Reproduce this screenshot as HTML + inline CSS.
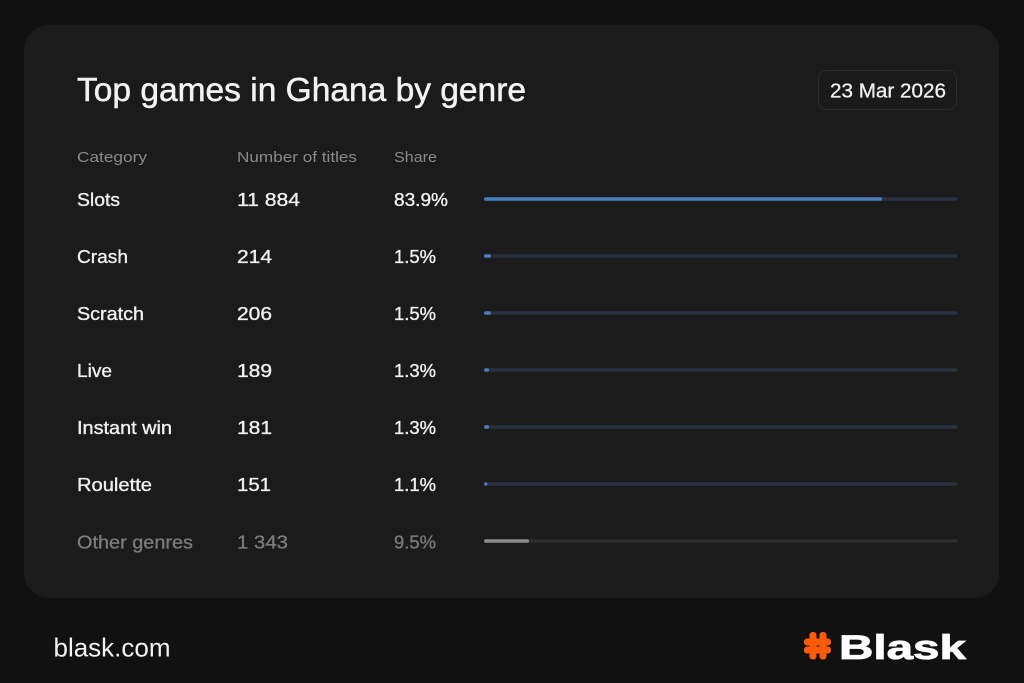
<!DOCTYPE html>
<html>
<head>
<meta charset="utf-8">
<style>
  html, body { margin:0; padding:0; background:#111111; }
  body { width:1024px; height:683px; overflow:hidden; }
  svg { display:block; }
  text { font-family: "Liberation Sans", "DejaVu Sans", sans-serif; }
</style>
</head>
<body>
<svg width="1024" height="683" viewBox="0 0 1024 683" xmlns="http://www.w3.org/2000/svg">
  <rect x="0" y="0" width="1024" height="683" fill="#111111"/>
  <!-- card -->
  <rect x="24" y="25" width="975" height="573" rx="25" ry="25" fill="#1b1b1b"/>

  <!-- title -->
  <text x="77" y="101" font-size="33" fill="#f2f2f2" stroke="#f2f2f2" stroke-width="0.5" textLength="449" lengthAdjust="spacingAndGlyphs">Top games in Ghana by genre</text>

  <!-- date box -->
  <rect x="818.5" y="70.5" width="138" height="39" rx="8" ry="8" fill="#1a1a1a" stroke="#2b2b2b" stroke-width="1"/>
  <text x="830" y="97.5" font-size="20" fill="#f0f0f0" stroke="#f0f0f0" stroke-width="0.3" textLength="116" lengthAdjust="spacingAndGlyphs">23 Mar 2026</text>

  <!-- headers -->
  <g font-size="15" fill="#8a8a8a">
    <text x="77" y="162" textLength="70" lengthAdjust="spacingAndGlyphs">Category</text>
    <text x="237" y="162" textLength="120" lengthAdjust="spacingAndGlyphs">Number of titles</text>
    <text x="394" y="162" textLength="43" lengthAdjust="spacingAndGlyphs">Share</text>
  </g>

  <!-- rows -->
  <g font-size="18" fill="#f0f0f0" stroke="#f0f0f0" stroke-width="0.35">
    <text x="77" y="206" textLength="43" lengthAdjust="spacingAndGlyphs">Slots</text>
    <text x="237" y="206" textLength="63" lengthAdjust="spacingAndGlyphs">11 884</text>
    <text x="394" y="206" textLength="54" lengthAdjust="spacingAndGlyphs">83.9%</text>

    <text x="77" y="263" textLength="51" lengthAdjust="spacingAndGlyphs">Crash</text>
    <text x="237" y="263" textLength="35" lengthAdjust="spacingAndGlyphs">214</text>
    <text x="394" y="263" textLength="42" lengthAdjust="spacingAndGlyphs">1.5%</text>

    <text x="77" y="320" textLength="67" lengthAdjust="spacingAndGlyphs">Scratch</text>
    <text x="237" y="320" textLength="35" lengthAdjust="spacingAndGlyphs">206</text>
    <text x="394" y="320" textLength="42" lengthAdjust="spacingAndGlyphs">1.5%</text>

    <text x="77" y="377" textLength="35" lengthAdjust="spacingAndGlyphs">Live</text>
    <text x="237" y="377" textLength="35" lengthAdjust="spacingAndGlyphs">189</text>
    <text x="394" y="377" textLength="42" lengthAdjust="spacingAndGlyphs">1.3%</text>

    <text x="77" y="434" textLength="95" lengthAdjust="spacingAndGlyphs">Instant win</text>
    <text x="237" y="434" textLength="35" lengthAdjust="spacingAndGlyphs">181</text>
    <text x="394" y="434" textLength="42" lengthAdjust="spacingAndGlyphs">1.3%</text>

    <text x="77" y="491" textLength="75" lengthAdjust="spacingAndGlyphs">Roulette</text>
    <text x="237" y="491" textLength="34" lengthAdjust="spacingAndGlyphs">151</text>
    <text x="394" y="491" textLength="42" lengthAdjust="spacingAndGlyphs">1.1%</text>
  </g>
  <g font-size="18" fill="#7c7c7c" stroke="#7c7c7c" stroke-width="0.3">
    <text x="77" y="548.5" textLength="116" lengthAdjust="spacingAndGlyphs">Other genres</text>
    <text x="237" y="548.5" textLength="51" lengthAdjust="spacingAndGlyphs">1 343</text>
    <text x="394" y="548.5" textLength="42" lengthAdjust="spacingAndGlyphs">9.5%</text>
  </g>

  <!-- bars: tracks -->
  <g fill="#263241">
    <rect x="484" y="197.3" width="473.5" height="3.5" rx="1.75"/>
    <rect x="484" y="254.3" width="473.5" height="3.5" rx="1.75"/>
    <rect x="484" y="311.3" width="473.5" height="3.5" rx="1.75"/>
    <rect x="484" y="368.3" width="473.5" height="3.5" rx="1.75"/>
    <rect x="484" y="425.3" width="473.5" height="3.5" rx="1.75"/>
    <rect x="484" y="482.3" width="473.5" height="3.5" rx="1.75"/>
  </g>
  <rect x="484" y="539.3" width="473.5" height="3.5" rx="1.75" fill="#2e2e2e"/>

  <!-- bars: fills -->
  <g fill="#4a7cbf">
    <rect x="484" y="197.3" width="398" height="3.5" rx="1.75"/>
    <rect x="484" y="254.3" width="7" height="3.5" rx="1.75"/>
    <rect x="484" y="311.3" width="7" height="3.5" rx="1.75"/>
    <rect x="484" y="368.3" width="5" height="3.5" rx="1.75"/>
    <rect x="484" y="425.3" width="5" height="3.5" rx="1.75"/>
    <rect x="484" y="482.3" width="3.5" height="3.5" rx="1.75"/>
  </g>
  <rect x="484" y="539.3" width="45" height="3.5" rx="1.75" fill="#8a8a8a"/>

  <!-- footer -->
  <text x="53.5" y="656.5" font-size="26" fill="#f2f2f2" textLength="117" lengthAdjust="spacingAndGlyphs">blask.com</text>

  <!-- logo hash -->
  <g fill="#ff5a0a">
    <rect x="809.5" y="632" width="7" height="27.5" rx="3"/>
    <rect x="819.5" y="632" width="7" height="27.5" rx="3"/>
    <rect x="804" y="638.5" width="27" height="7" rx="3"/>
    <rect x="804" y="646.5" width="27" height="7" rx="3"/>
  </g>
  <text x="839" y="659" font-size="34" font-weight="bold" fill="#ffffff" stroke="#ffffff" stroke-width="0.8" textLength="127" lengthAdjust="spacingAndGlyphs">Blask</text>
</svg>
</body>
</html>
